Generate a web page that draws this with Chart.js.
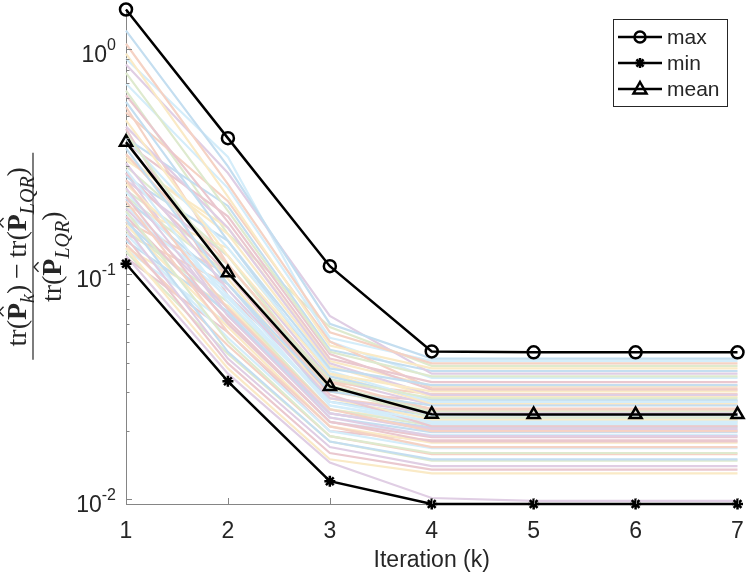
<!DOCTYPE html>
<html>
<head>
<meta charset="utf-8">
<script src="https://cdn.jsdelivr.net/npm/chart.js@4.4.0/dist/chart.umd.min.js"></script>
<style>
  html, body { margin: 0; padding: 0; background: #fff; }
  #wrap { width: 747px; height: 574px; }
</style>
</head>
<body>
<div id="wrap"><canvas id="chart" width="747" height="574"></canvas></div>
<script>
const iterations = [1, 2, 3, 4, 5, 6, 7];
const maxErr = [1.49, 0.40, 0.108, 0.0452, 0.0448, 0.0448, 0.0448];
const minErr = [0.1107, 0.0333, 0.0120, 0.0095, 0.0095, 0.0095, 0.0095];
const meanErr = [0.384, 0.101, 0.0316, 0.0238, 0.0237, 0.0237, 0.0237];
const yTickLabels = [[1, "0"], [0.1, "-1"], [0.01, "-2"]];

// individual runs
const runs = [
  [1.20, 0.30, 0.060, 0.042, 0.042, 0.042, 0.042],
  [1.05, 0.25, 0.055, 0.040, 0.040, 0.040, 0.040],
  [0.95, 0.22, 0.048, 0.038, 0.038, 0.038, 0.038],
  [0.85, 0.28, 0.065, 0.036, 0.036, 0.036, 0.036],
  [0.78, 0.19, 0.045, 0.035, 0.035, 0.035, 0.035],
  [0.70, 0.24, 0.052, 0.041, 0.041, 0.041, 0.041],
  [0.62, 0.17, 0.042, 0.033, 0.033, 0.033, 0.033],
  [0.58, 0.14, 0.038, 0.032, 0.032, 0.032, 0.032],
  [0.52, 0.21, 0.050, 0.031, 0.031, 0.031, 0.031],
  [0.48, 0.12, 0.036, 0.030, 0.030, 0.030, 0.030],
  [0.45, 0.16, 0.040, 0.029, 0.029, 0.029, 0.029],
  [0.42, 0.10, 0.034, 0.028, 0.028, 0.028, 0.028],
  [0.40, 0.13, 0.037, 0.027, 0.027, 0.027, 0.027],
  [0.38, 0.18, 0.044, 0.0305, 0.0305, 0.0305, 0.0305],
  [0.36, 0.09, 0.030, 0.026, 0.026, 0.026, 0.026],
  [0.34, 0.11, 0.033, 0.025, 0.025, 0.025, 0.025],
  [0.33, 0.15, 0.039, 0.0285, 0.0285, 0.0285, 0.0285],
  [0.31, 0.085, 0.028, 0.024, 0.024, 0.024, 0.024],
  [0.30, 0.12, 0.031, 0.023, 0.023, 0.023, 0.023],
  [0.29, 0.075, 0.027, 0.022, 0.022, 0.022, 0.022],
  [0.28, 0.10, 0.029, 0.021, 0.021, 0.021, 0.021],
  [0.27, 0.14, 0.035, 0.0275, 0.0275, 0.0275, 0.0275],
  [0.26, 0.07, 0.025, 0.020, 0.020, 0.020, 0.020],
  [0.25, 0.095, 0.028, 0.0225, 0.0225, 0.0225, 0.0225],
  [0.24, 0.065, 0.023, 0.019, 0.019, 0.019, 0.019],
  [0.235, 0.11, 0.032, 0.0245, 0.0245, 0.0245, 0.0245],
  [0.23, 0.08, 0.026, 0.0215, 0.0215, 0.0215, 0.0215],
  [0.22, 0.06, 0.022, 0.018, 0.018, 0.018, 0.018],
  [0.215, 0.09, 0.027, 0.0235, 0.0235, 0.0235, 0.0235],
  [0.21, 0.055, 0.021, 0.017, 0.017, 0.017, 0.017],
  [0.20, 0.13, 0.036, 0.0265, 0.0265, 0.0265, 0.0265],
  [0.195, 0.07, 0.024, 0.0205, 0.0205, 0.0205, 0.0205],
  [0.19, 0.05, 0.019, 0.016, 0.016, 0.016, 0.016],
  [0.185, 0.085, 0.026, 0.0222, 0.0222, 0.0222, 0.0222],
  [0.18, 0.062, 0.022, 0.0188, 0.0188, 0.0188, 0.0188],
  [0.175, 0.045, 0.018, 0.015, 0.015, 0.015, 0.015],
  [0.17, 0.10, 0.030, 0.0252, 0.0252, 0.0252, 0.0252],
  [0.165, 0.058, 0.021, 0.0178, 0.0178, 0.0178, 0.0178],
  [0.16, 0.042, 0.017, 0.014, 0.014, 0.014, 0.014],
  [0.155, 0.075, 0.025, 0.0212, 0.0212, 0.0212, 0.0212],
  [0.15, 0.052, 0.020, 0.0168, 0.0168, 0.0168, 0.0168],
  [0.145, 0.040, 0.016, 0.0135, 0.0135, 0.0135, 0.0135],
  [0.14, 0.068, 0.023, 0.0198, 0.0198, 0.0198, 0.0198],
  [0.135, 0.048, 0.019, 0.0158, 0.0158, 0.0158, 0.0158],
  [0.13, 0.038, 0.015, 0.0130, 0.0130, 0.0130, 0.0130],
  [0.12, 0.036, 0.0145, 0.0101, 0.0098, 0.0098, 0.0098],
  [0.125, 0.044, 0.018, 0.0148, 0.0148, 0.0148, 0.0148],
  [0.128, 0.060, 0.022, 0.0192, 0.0192, 0.0192, 0.0192],
  [0.118, 0.055, 0.020, 0.0182, 0.0182, 0.0182, 0.0182],
  [0.40, 0.20, 0.046, 0.037, 0.037, 0.037, 0.037],
  [0.55, 0.11, 0.033, 0.0292, 0.0292, 0.0292, 0.0292],
  [0.32, 0.16, 0.041, 0.0318, 0.0318, 0.0318, 0.0318],
  [0.26, 0.12, 0.034, 0.0262, 0.0262, 0.0262, 0.0262],
  [0.22, 0.10, 0.031, 0.0242, 0.0242, 0.0242, 0.0242],
  [0.20, 0.078, 0.027, 0.0228, 0.0228, 0.0228, 0.0228],
  [0.44, 0.08, 0.030, 0.0272, 0.0272, 0.0272, 0.0272],
  [0.17, 0.066, 0.024, 0.0208, 0.0208, 0.0208, 0.0208],
  [0.15, 0.09, 0.028, 0.0248, 0.0248, 0.0248, 0.0248],
  [0.13, 0.072, 0.025, 0.0218, 0.0218, 0.0218, 0.0218],
  [0.28, 0.065, 0.024, 0.0202, 0.0202, 0.0202, 0.0202],
  [0.65, 0.15, 0.058, 0.039, 0.039, 0.039, 0.039],
  [0.90, 0.33, 0.050, 0.0345, 0.0345, 0.0345, 0.0345]
];

// MATLAB default order, washed out towards white
const runColors = [
  "rgb(196,222,240)", "rgb(245,210,196)", "rgb(250,234,198)",
  "rgb(224,206,228)", "rgb(222,234,206)", "rgb(212,237,250)",
  "rgb(234,200,207)"
];

const TEXT = "#262626";
const AXIS = "#858585";
const SANS = "'Liberation Sans', Arial, sans-serif";
const SERIF = "'Liberation Serif', 'Times New Roman', serif";

function blackSet(label, data, style, radius) {
  return {
    label, data,
    borderColor: "#000", backgroundColor: "rgba(0,0,0,0)",
    borderWidth: 2.5, pointStyle: style, pointRadius: radius,
    pointBorderWidth: 2.5, pointBorderColor: "#000",
    pointBackgroundColor: style === "star" ? "#000" : "rgba(0,0,0,0)",
    clip: false, tension: 0
  };
}

const datasets = [
  blackSet("max", maxErr, "circle", 6),
  blackSet("min", minErr, "star", 5.5),
  blackSet("mean", meanErr, "triangle", 7),
  ...runs.map((r, i) => ({
    label: "run" + i, data: r,
    borderColor: runColors[i % runColors.length],
    borderWidth: 2.2, pointRadius: 0, tension: 0, clip: false
  }))
];

// y tick labels with superscripts, inward tick marks, y title, legend
const decorPlugin = {
  id: "decor",
  afterDraw(chart) {
    const { ctx, chartArea: a } = chart;
    const ys = chart.scales.y, xs = chart.scales.x;
    ctx.save();

    // tick marks (inside)
    ctx.strokeStyle = AXIS;
    ctx.lineWidth = 1;
    for (let e = -3; e <= 0; e++) {
      for (let m = 1; m <= 9; m++) {
        const v = m * Math.pow(10, e);
        if (v < ys.min || v > ys.max) continue;
        const py = Math.round(ys.getPixelForValue(v)) + 0.5;
        const len = m === 1 ? 6 : 3.5;
        ctx.beginPath();
        ctx.moveTo(a.left, py);
        ctx.lineTo(a.left + len, py);
        ctx.stroke();
      }
    }
    iterations.forEach((k, i) => {
      const px = Math.round(xs.getPixelForValue(i)) + 0.5;
      ctx.beginPath();
      ctx.moveTo(px, a.bottom);
      ctx.lineTo(px, a.bottom - 6);
      ctx.stroke();
    });

    // y tick labels 10^n
    ctx.fillStyle = TEXT;
    ctx.textAlign = "right";
    ctx.textBaseline = "alphabetic";
    yTickLabels.forEach(([v, sup]) => {
      const py = ys.getPixelForValue(v);
      const right = a.left - 10;
      ctx.font = "16px " + SANS;
      const sw = ctx.measureText(sup).width;
      ctx.fillText(sup, right, py + 1);
      ctx.font = "23px " + SANS;
      ctx.fillText("10", right - sw, py + 13);
    });

    // y title: fraction, rotated
    ctx.translate(33, (a.top + a.bottom) / 2 + 0);
    ctx.rotate(-Math.PI / 2);
    const fs = 28;
    const norm = fs + "px " + SERIF;
    const bold = "bold " + fs + "px " + SERIF;
    const sub = "italic " + Math.round(fs * 0.7) + "px " + SERIF;
    const num = [
      ["tr(", norm], ["P", bold, "hat"], ["k", sub, "sub"], [")", norm],
      ["\u2009\u2212\u2009", norm],
      ["tr(", norm], ["P", bold, "hat"], ["LQR", sub, "sub"], [")", norm]
    ];
    const den = [["tr(", norm], ["P", bold, "hat"], ["LQR", sub, "sub"], [")", norm]];
    function widthOf(segs) {
      return segs.reduce((s, g) => { ctx.font = g[1]; return s + ctx.measureText(g[0]).width; }, 0);
    }
    function drawSegs(segs, base) {
      let u = -widthOf(segs) / 2;
      ctx.textAlign = "left";
      segs.forEach(g => {
        ctx.font = g[1];
        const w = ctx.measureText(g[0]).width;
        const dy = g[2] === "sub" ? fs * 0.28 : 0;
        ctx.fillText(g[0], u, base + dy);
        if (g[2] === "hat") {
          const cx = u + w / 2, top = base - fs * 0.66 - 4;
          ctx.beginPath();
          ctx.lineWidth = 1.4;
          ctx.strokeStyle = TEXT;
          ctx.moveTo(cx - w * 0.28, top);
          ctx.lineTo(cx, top - fs * 0.16);
          ctx.lineTo(cx + w * 0.28, top);
          ctx.stroke();
        }
        u += w;
      });
    }
    ctx.fillStyle = TEXT;
    drawSegs(num, -7);
    drawSegs(den, 28);
    ctx.lineWidth = 1.2;
    ctx.strokeStyle = TEXT;
    ctx.beginPath();
    ctx.moveTo(-103, 0);
    ctx.lineTo(104, 0);
    ctx.stroke();
    ctx.restore();

    // legend
    ctx.save();
    ctx.fillStyle = "#fff";
    ctx.strokeStyle = TEXT;
    ctx.lineWidth = 1;
    ctx.fillRect(613.5, 19.5, 114, 87);
    ctx.strokeRect(613.5, 19.5, 114, 87);
    const entries = [["max", "circle"], ["min", "star"], ["mean", "triangle"]];
    entries.forEach(([name, shape], i) => {
      const ly = 37 + i * 26;
      ctx.strokeStyle = "#000";
      ctx.lineWidth = 2.5;
      ctx.beginPath();
      ctx.moveTo(618, ly);
      ctx.lineTo(662, ly);
      ctx.stroke();
      ctx.beginPath();
      if (shape === "circle") {
        ctx.arc(640, ly, 5.5, 0, Math.PI * 2);
        ctx.stroke();
      } else if (shape === "star") {
        for (let t = 0; t < 4; t++) {
          const ang = t * Math.PI / 4;
          ctx.moveTo(640 - 5 * Math.cos(ang), ly - 5 * Math.sin(ang));
          ctx.lineTo(640 + 5 * Math.cos(ang), ly + 5 * Math.sin(ang));
        }
        ctx.stroke();
      } else {
        ctx.moveTo(640, ly - 7);
        ctx.lineTo(646.5, ly + 4.5);
        ctx.lineTo(633.5, ly + 4.5);
        ctx.closePath();
        ctx.stroke();
      }
      ctx.fillStyle = TEXT;
      ctx.font = "21px " + SANS;
      ctx.textAlign = "left";
      ctx.textBaseline = "middle";
      ctx.fillText(name, 667, ly + 1);
    });
    ctx.restore();
  }
};

new Chart(document.getElementById("chart"), {
  type: "line",
  data: { labels: iterations, datasets },
  options: {
    responsive: false,
    animation: false,
    layout: { padding: { top: 8, right: 9, left: 0, bottom: 0 } },
    plugins: { legend: { display: false }, tooltip: { enabled: false } },
    scales: {
      x: {
        type: "category",
        offset: false,
        grid: { display: false },
        border: { color: AXIS, width: 1 },
        ticks: { color: TEXT, font: { size: 23, family: SANS }, padding: 6, maxRotation: 0 },
        title: { display: true, text: "Iteration (k)", color: TEXT, font: { size: 23, family: SANS }, padding: { top: 0, bottom: 0 } },
        afterFit(scale) {
          scale.height = 70;
          scale.paddingLeft = 0;
          scale.paddingRight = 0;
        }
      },
      y: {
        type: "logarithmic",
        min: 0.0095,
        max: 1.49,
        grid: { display: false },
        border: { color: AXIS, width: 1 },
        ticks: { display: false },
        afterFit(scale) {
          scale.width = 126;
          scale.paddingTop = 0;
          scale.paddingBottom = 0;
        }
      }
    }
  },
  plugins: [decorPlugin]
});
</script>
</body>
</html>
